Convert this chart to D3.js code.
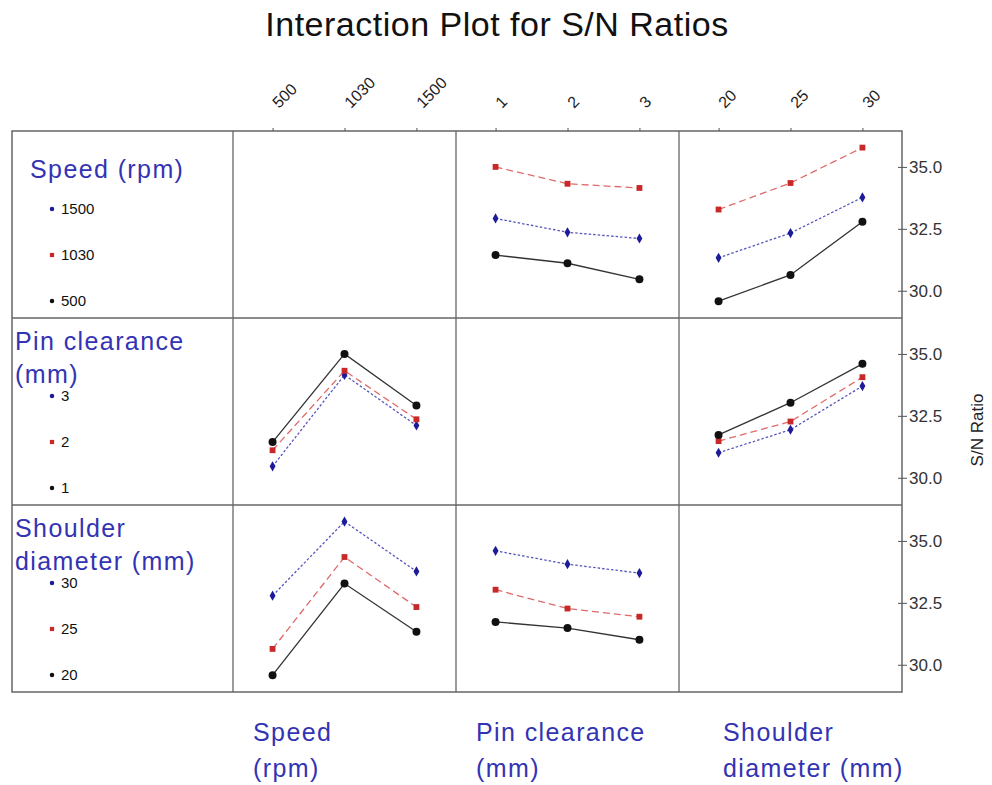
<!DOCTYPE html>
<html>
<head>
<meta charset="utf-8">
<script src="https://cdn.jsdelivr.net/npm/d3@7"></script>
<style>
  body { margin: 0; background: #fff; }
  text { font-family: "Liberation Sans", Arial, sans-serif; }
</style>
</head>
<body>
<div id="chart"></div>
<script>
// factors and their levels
const factorNames = ["Speed (rpm)", "Pin clearance (mm)", "Shoulder diameter (mm)"];
const speedLevels = ["500", "1030", "1500"];
const pinLevels = ["1", "2", "3"];
const shoulderLevels = ["20", "25", "30"];
const levels = [speedLevels, pinLevels, shoulderLevels];

// mean S/N ratio, rows = first factor level, columns = second factor level
const speedByPin = [
    [31.44, 31.11, 30.46],
    [35.00, 34.32, 34.15],
    [32.92, 32.36, 32.11]
];
const speedByShoulder = [
    [29.58, 30.64, 32.79],
    [33.28, 34.35, 35.78],
    [31.33, 32.33, 33.77]
];
const pinByShoulder = [
    [31.73, 33.03, 34.60],
    [31.48, 32.27, 34.06],
    [31.01, 31.94, 33.70]
];

const yTicks = [30.0, 32.5, 35.0];
const yDomain = [28.9, 36.45];

// table of matrices keyed "lineFactor-xFactor"
const transpose = m => m[0].map((_, j) => m.map(r => r[j]));
const tables = {
    "0-1": speedByPin,
    "0-2": speedByShoulder,
    "1-0": transpose(speedByPin),
    "1-2": pinByShoulder,
    "2-0": transpose(speedByShoulder),
    "2-1": transpose(pinByShoulder)
};

const width = 992, height = 785;
const frame = {left: 12, right: 902, top: 131, bottom: 692};
const legendRight = 233;
const colW = (frame.right - legendRight) / 3;
const rowH = (frame.bottom - frame.top) / 3;

const labelBlue = "#3333b3";
const styles = [
    {line: "#333", dash: null, marker: "#111", shape: d3.symbolCircle, size: 50},
    {line: "#e06a6a", dash: "7,4", marker: "#c82828", shape: d3.symbolSquare, size: 34},
    {line: "#5555bb", dash: "2.5,2", marker: "#1c1c99", shape: d3.symbolDiamond, size: 30}
];

const svg = d3.select("#chart").append("svg")
    .attr("width", width)
    .attr("height", height);

svg.append("text")
    .attr("x", 497).attr("y", 36)
    .attr("text-anchor", "middle")
    .attr("font-size", 34)
    .attr("letter-spacing", 0.5)
    .attr("fill", "#111")
    .text("Interaction Plot for S/N Ratios");

const xScales = levels.map((lv, j) => d3.scalePoint()
    .domain(lv)
    .range([legendRight + j * colW, legendRight + (j + 1) * colW])
    .padding(0.55));

const yScales = levels.map((_, i) => d3.scaleLinear()
    .domain(yDomain)
    .range([frame.top + (i + 1) * rowH, frame.top + i * rowH]));

// panels
for (let i = 0; i < 3; i++) {
    for (let j = 0; j < 3; j++) {
        if (i === j) continue;
        const m = tables[i + "-" + j];
        const x = xScales[j], y = yScales[i];
        const g = svg.append("g");
        // draw top level first so black sits on top
        for (let k = 2; k >= 0; k--) {
            const pts = levels[j].map((lv, c) => ({lv, v: m[k][c]}));
            g.append("path")
                .datum(pts)
                .attr("fill", "none")
                .attr("stroke", styles[k].line)
                .attr("stroke-width", 1.3)
                .attr("stroke-dasharray", styles[k].dash)
                .attr("d", d3.line().x(d => x(d.lv)).y(d => y(d.v)));
            g.selectAll(null)
                .data(pts)
                .enter().append("path")
                .attr("transform", d => `translate(${x(d.lv)},${y(d.v)})`)
                .attr("d", d3.symbol().type(styles[k].shape).size(styles[k].size))
                .attr("fill", styles[k].marker);
        }
    }
}

// grid lines and frame
const frameColor = "#666";
[1, 2].forEach(k => {
    svg.append("line")
        .attr("x1", frame.left).attr("x2", frame.right)
        .attr("y1", frame.top + k * rowH).attr("y2", frame.top + k * rowH)
        .attr("stroke", frameColor).attr("stroke-width", 1.3);
});
[0, 1, 2].forEach(k => {
    svg.append("line")
        .attr("x1", legendRight + k * colW).attr("x2", legendRight + k * colW)
        .attr("y1", frame.top).attr("y2", frame.bottom)
        .attr("stroke", frameColor).attr("stroke-width", 1.3);
});
svg.append("rect")
    .attr("x", frame.left).attr("y", frame.top)
    .attr("width", frame.right - frame.left)
    .attr("height", frame.bottom - frame.top)
    .attr("fill", "none")
    .attr("stroke", frameColor).attr("stroke-width", 1.5);

// top axes
xScales.forEach(x => {
    const ax = svg.append("g")
        .attr("transform", `translate(0,${frame.top})`)
        .call(d3.axisTop(x).tickSize(3).tickSizeOuter(0));
    ax.select(".domain").remove();
    ax.selectAll(".tick line").attr("stroke", "#555");
    ax.selectAll(".tick text")
        .attr("font-size", 16)
        .attr("fill", "#222")
        .attr("text-anchor", "start")
        .attr("x", 0).attr("y", 0).attr("dy", 0)
        .attr("transform", "translate(6,-22) rotate(-45)");
});

// right axes
yScales.forEach(y => {
    const ax = svg.append("g")
        .attr("transform", `translate(${frame.right},0)`)
        .call(d3.axisRight(y).tickValues(yTicks).tickFormat(d3.format(".1f")).tickSize(5).tickSizeOuter(0));
    ax.select(".domain").remove();
    ax.selectAll(".tick line").attr("stroke", "#555").attr("x1", -4);
    ax.selectAll(".tick text")
        .attr("font-size", 17)
        .attr("fill", "#333")
        .attr("x", 7);
});

svg.append("text")
    .attr("transform", "translate(983,430) rotate(-90)")
    .attr("text-anchor", "middle")
    .attr("font-size", 17)
    .attr("fill", "#222")
    .text("S/N Ratio");

// legends in left column
const legendTitles = [["Speed (rpm)"], ["Pin clearance", "(mm)"], ["Shoulder", "diameter (mm)"]];
const titleX = [30, 15, 15];
legendTitles.forEach((lines, i) => {
    const top = frame.top + i * rowH;
    const t = svg.append("text")
        .attr("font-size", 25)
        .attr("letter-spacing", 1.4)
        .attr("fill", labelBlue);
    lines.forEach((s, n) => {
        t.append("tspan")
            .attr("x", titleX[i])
            .attr("y", top + (lines.length === 1 ? 47 : 32 + n * 33))
            .text(s);
    });
    // legend items, highest level first
    const items = levels[i].map((lv, k) => ({lv, k})).reverse();
    items.forEach((d, n) => {
        const cy = top + 78 + n * 46;
        svg.append("path")
            .attr("transform", `translate(52,${cy})`)
            .attr("d", d3.symbol().type(d.k === 1 ? d3.symbolSquare : d3.symbolCircle).size(d.k === 1 ? 18 : 16))
            .attr("fill", styles[d.k].marker);
        svg.append("text")
            .attr("x", 61).attr("y", cy + 5)
            .attr("font-size", 15)
            .attr("fill", "#111")
            .text(d.lv);
    });
});

// bottom factor labels
const bottomLabels = [["Speed", "(rpm)"], ["Pin clearance", "(mm)"], ["Shoulder", "diameter (mm)"]];
const bottomX = [253, 476, 723];
bottomLabels.forEach((lines, j) => {
    const t = svg.append("text")
        .attr("font-size", 25)
        .attr("letter-spacing", 1.4)
        .attr("fill", labelBlue);
    lines.forEach((s, n) => {
        t.append("tspan")
            .attr("x", bottomX[j])
            .attr("y", 741 + n * 36)
            .text(s);
    });
});
</script>
</body>
</html>
